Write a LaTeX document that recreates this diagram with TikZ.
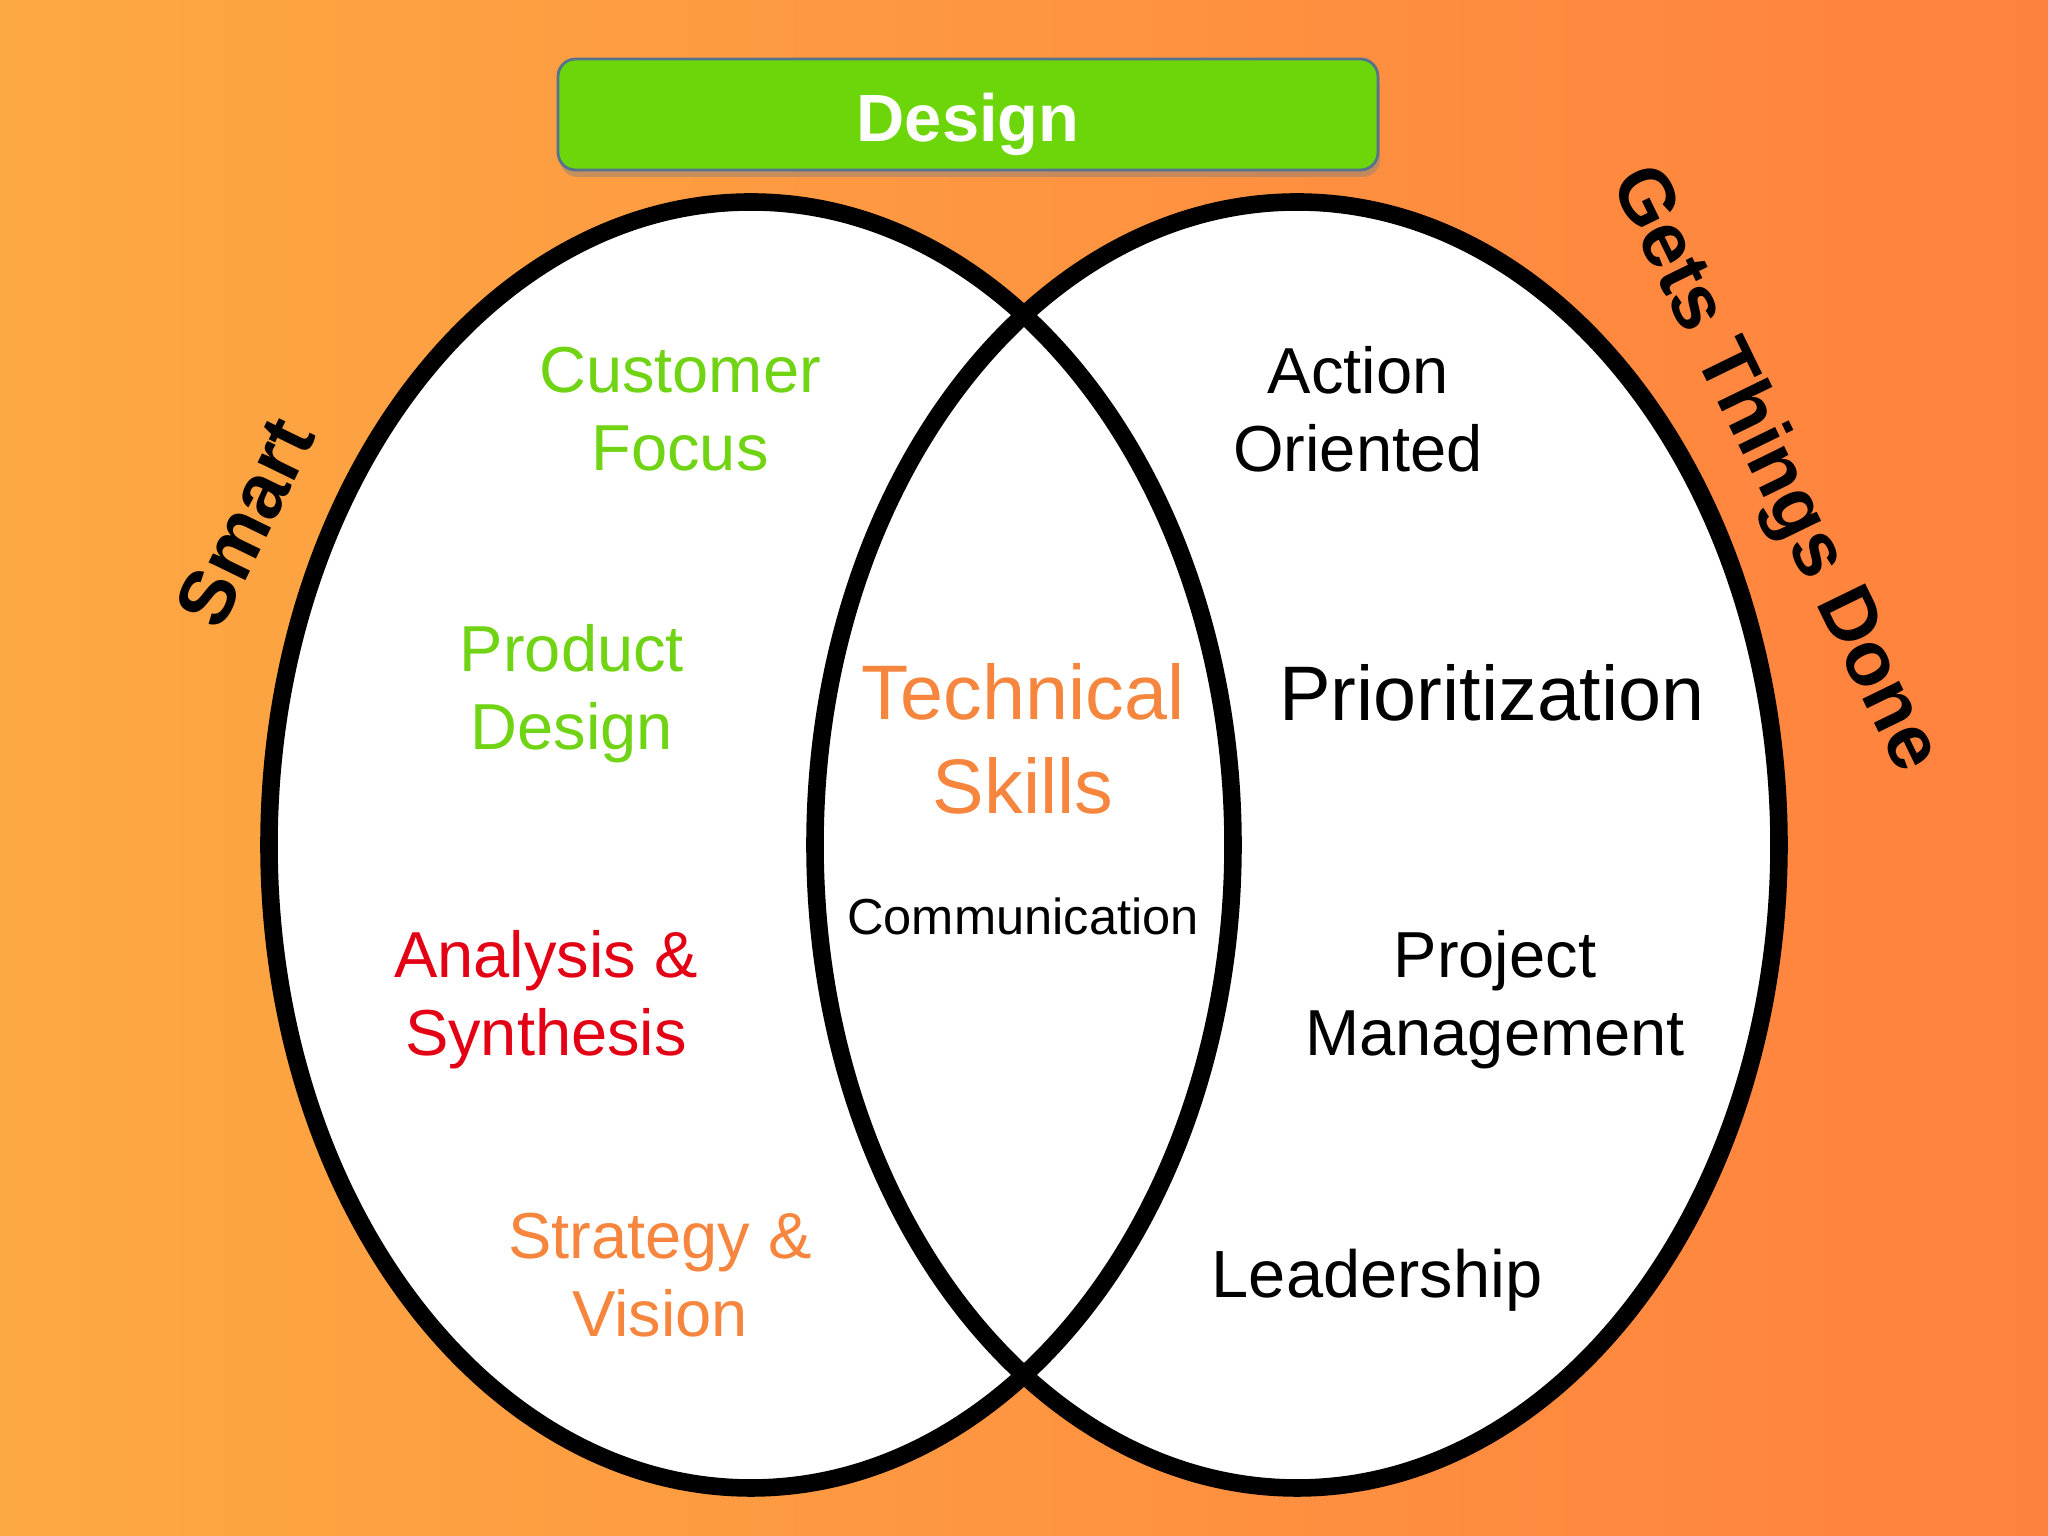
\documentclass[tikz,border=0pt]{standalone}
\usepackage{fontspec}
\setmainfont{Liberation Sans}
\usetikzlibrary{shadows}
\definecolor{figFondG}{RGB}{253,169,67}
\definecolor{figFondD}{RGB}{255,129,62}
\definecolor{figVert}{RGB}{108,214,10}
\definecolor{figVertTxt}{RGB}{112,212,20}
\definecolor{figRouge}{RGB}{228,0,20}
\definecolor{figOrange}{RGB}{246,133,62}
\definecolor{figBord}{RGB}{85,115,140}

\begin{document}
\begin{tikzpicture}[
  x=1cm, y=1cm,
  every node/.style={font=\normalsize},
  anneau/.style={draw=black, line width=5pt},
  mot/.style={align=center, font=\fontsize{18.5}{22.3}\selectfont},
  gros/.style={align=center, font=\fontsize{22}{26.7}\selectfont},
  cote/.style={font=\fontsize{22}{26}\selectfont\bfseries, text=black},
  bandeau/.style={draw=figBord, line width=0.8pt, rounded corners=5pt, fill=figVert,
                  minimum width=8.2cm, minimum height=1.11cm,
                  drop shadow={opacity=0.45, shadow xshift=0.02cm, shadow yshift=-0.07cm}},
  ttl/.style={font=\fontsize{19}{22}\selectfont\bfseries, text=white}
]
\useasboundingbox (0,0) rectangle (20.48,15.36);

% ---- fond degrade ----
\shade[left color=figFondG, right color=figFondD] (0,0) rectangle (20.48,15.36);

% ---- les deux ellipses ----
\coordinate (cg) at (7.51,6.91);
\coordinate (cd) at (12.97,6.91);
\fill[white] (cg) ellipse [x radius=4.82, y radius=6.43];
\fill[white] (cd) ellipse [x radius=4.82, y radius=6.43];
\draw[anneau] (cg) ellipse [x radius=4.82, y radius=6.43];
\draw[anneau] (cd) ellipse [x radius=4.82, y radius=6.43];

% ---- bandeau du haut ----
\node[bandeau] (bandeau) at (9.68,14.215) {};
\node[ttl] (design) at (9.68,14.12) {Design};

% ---- titres des ensembles ----
\node[cote, rotate=64] (smart) at (2.45,10.14) {Smart};
\node[cote, rotate=-64] (gtd) at (17.73,10.66) {Gets Things Done};

% ---- ensemble de gauche ----
\node[mot, text=figVertTxt] (client) at (6.80,11.27) {Customer\\Focus};
\node[mot, text=figVertTxt] (produit) at (5.72,8.42) {Product\\Design};
\node[mot, text=figRouge] (analyse) at (5.46,5.36) {Analysis \&\\Synthesis};
\node[mot, text=figOrange] (strat) at (6.60,2.61) {Strategy \&\\Vision};

% ---- intersection ----
\node[gros, text=figOrange] (tech) at (10.23,7.97) {Technical\\Skills};
\node[font=\fontsize{14.4}{17}\selectfont] (comm) at (10.23,6.20) {Communication};

% ---- ensemble de droite ----
\node[mot] (action) at (13.58,11.27) {Action\\Oriented};
\node[gros] (prio) at (14.92,8.43) {Prioritization};
\node[mot] (projet) at (14.95,5.36) {Project\\Management};
\node[mot, font=\fontsize{19}{22}\selectfont] (lead) at (13.77,2.56) {Leadership};

\end{tikzpicture}
\end{document}
